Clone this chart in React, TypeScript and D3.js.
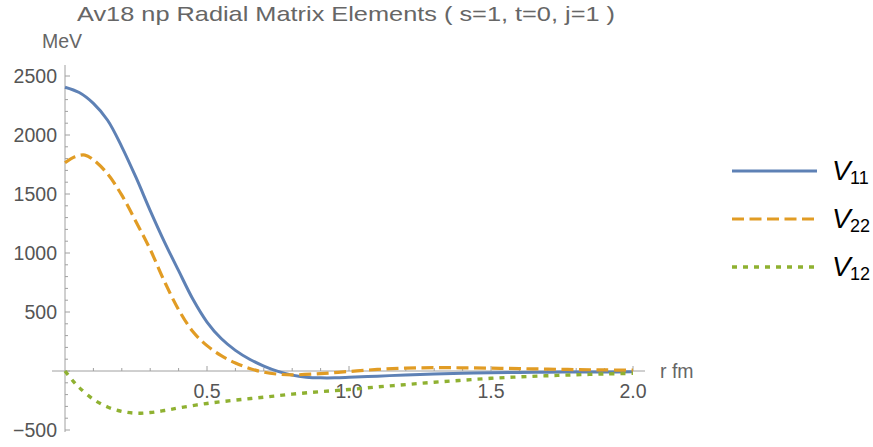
import React from "react";
import * as d3 from "d3";

const rV11 = [0, 0.05, 0.1, 0.15, 0.2, 0.25, 0.3, 0.35, 0.4, 0.45, 0.5, 0.55, 0.6, 0.65, 0.7, 0.75, 0.8, 0.85, 0.9, 0.95, 1.0, 1.1, 1.2, 1.3, 1.4, 1.5, 1.6, 1.7, 1.8, 1.9, 2.0];
const v11 = [2405, 2360, 2268, 2125, 1900, 1640, 1360, 1095, 850, 610, 415, 275, 175, 100, 42, -3, -35, -52, -58, -58, -54, -44, -33, -25, -19, -15, -12, -10, -9, -8, -7];

const rV22 = [0, 0.035, 0.07, 0.1, 0.15, 0.2, 0.25, 0.3, 0.35, 0.4, 0.45, 0.5, 0.55, 0.6, 0.65, 0.7, 0.75, 0.8, 0.9, 1.0, 1.1, 1.2, 1.3, 1.4, 1.5, 1.6, 1.7, 1.8, 1.9, 2.0];
const v22 = [1765, 1815, 1830, 1790, 1670, 1490, 1265, 1030, 760, 520, 335, 215, 130, 68, 22, -10, -27, -33, -22, -4, 13, 24, 28, 27, 24, 20, 16, 12, 9, 7];

const rV12 = [0, 0.03, 0.05, 0.1, 0.15, 0.2, 0.25, 0.3, 0.35, 0.4, 0.5, 0.6, 0.7, 0.8, 0.9, 1.0, 1.1, 1.2, 1.3, 1.4, 1.5, 1.6, 1.7, 1.8, 1.9, 2.0];
const v12 = [0, -90, -140, -240, -305, -342, -358, -352, -335, -313, -275, -247, -222, -196, -175, -157, -135, -115, -95, -78, -62, -50, -40, -32, -25, -20];

const xTicks = [0.5, 1.0, 1.5, 2.0];
const xTickLabels = ["0.5", "1.0", "1.5", "2.0"];
const yTicks = [-500, 500, 1000, 1500, 2000, 2500];
const yTickLabels = ["\u2212500", "500", "1000", "1500", "2000", "2500"];
const legendNames = ["11", "22", "12"];

const title = "Av18 np Radial Matrix Elements ( s=1, t=0, j=1 )";

export default function App() {
  const W = 873, H = 447;
  const x = d3.scaleLinear().domain([0, 2]).range([65, 633]);
  const y = d3.scaleLinear().domain([-500, 2500]).range([430, 76]);
  const line = d3.line<[number, number]>().x(d => x(d[0])).y(d => y(d[1])).curve(d3.curveCatmullRom.alpha(0.5));

  const series = [
    { r: rV11, v: v11, color: "#5E81B5", dash: "none", w: 3 },
    { r: rV22, v: v22, color: "#E19C24", dash: "12,5.5", w: 3.2 },
    { r: rV12, v: v12, color: "#8FB131", dash: "5,6", w: 3.4 },
  ];

  const minorX = d3.range(1, 21).map(i => i / 10);
  const minorY = d3.range(-5, 26).map(i => i * 100);
  const axisColor = "#a0a0a0";
  const font = "'Liberation Sans', Arial, Helvetica, sans-serif";
  const x0 = x(0), y0 = y(0);

  return (
    <svg width={W} height={H} style={{ position: "absolute", left: 0, top: 0, background: "#fff" }} fontFamily={font}>
      <rect x={0} y={0} width={W} height={H} fill="#fff" />
      <text x={77} y={21} fontSize={21} fill="#666" textLength={538} lengthAdjust="spacingAndGlyphs">{title}</text>
      <text x={42} y={48} fontSize={19.5} fill="#666">MeV</text>
      <text x={660} y={378} fontSize={19.5} fill="#666">r fm</text>

      {/* axes */}
      <line x1={x0} x2={x0} y1={65} y2={432} stroke={axisColor} strokeWidth={1} />
      <line x1={52} x2={645} y1={y0} y2={y0} stroke={axisColor} strokeWidth={1} />
      {minorY.map(v => (
        <line key={"my" + v} x1={x0} x2={x0 + (v % 500 === 0 ? 5 : 3)} y1={y(v)} y2={y(v)} stroke={axisColor} strokeWidth={1} />
      ))}
      {minorX.map(v => (
        <line key={"mx" + v} x1={x(v)} x2={x(v)} y1={y0} y2={y0 - (Math.abs(v * 2 - Math.round(v * 2)) < 1e-6 ? 5 : 3)} stroke={axisColor} strokeWidth={1} />
      ))}
      {yTicks.map((v, i) => (
        <text key={"yl" + v} x={57} y={y(v)} dy="0.36em" textAnchor="end" fontSize={19.5} fill="#555">{yTickLabels[i]}</text>
      ))}
      {xTicks.map((v, i) => (
        <text key={"xl" + v} x={x(v)} y={398} textAnchor="middle" fontSize={19.5} fill="#555">{xTickLabels[i]}</text>
      ))}

      {/* curves */}
      {series.map((s, i) => (
        <path key={"s" + i} d={line(s.r.map((r, j) => [r, s.v[j]] as [number, number])) || ""} fill="none" stroke={s.color} strokeWidth={s.w} strokeDasharray={s.dash} />
      ))}

      {/* legend */}
      {series.map((s, i) => {
        const ly = 171 + i * 48;
        return (
          <g key={"lg" + i}>
            <line x1={732} x2={817} y1={ly} y2={ly} stroke={s.color} strokeWidth={s.w} strokeDasharray={s.dash} />
            <text x={832} y={ly + 9} fontSize={28} fontStyle="italic" fill="#000">V</text>
            <text x={850} y={ly + 13} fontSize={18} fill="#000">{legendNames[i]}</text>
          </g>
        );
      })}
    </svg>
  );
}
